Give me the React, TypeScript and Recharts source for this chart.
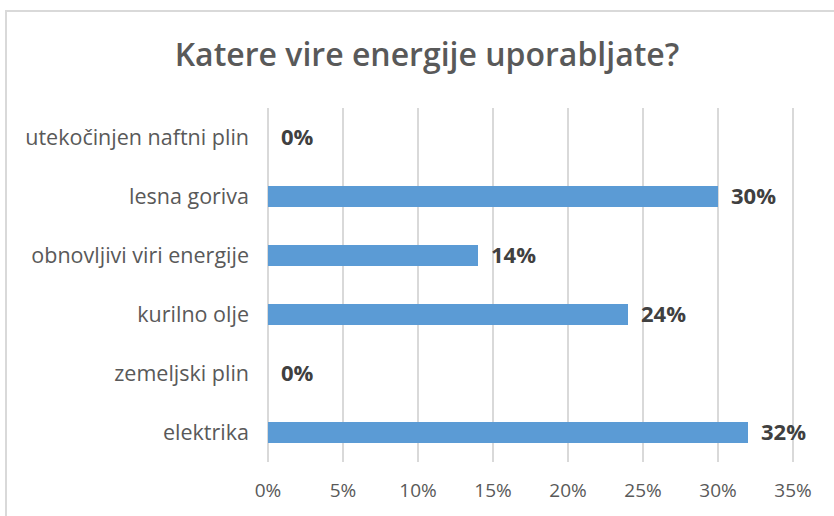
import { Bar, BarChart, CartesianGrid, LabelList, XAxis, YAxis } from "recharts";

const categories = [
  "utekočinjen naftni plin",
  "lesna goriva",
  "obnovljivi viri energije",
  "kurilno olje",
  "zemeljski plin",
  "elektrika",
];
const shares = [0, 30, 14, 24, 0, 32];
const xTicks = [0, 5, 10, 15, 20, 25, 30, 35];

const data = categories.map((name, i) => ({ name, value: shares[i] }));

const font = "'Open Sans', 'Liberation Sans', sans-serif";

export default function App() {
  return (
    <div
      style={{
        position: "fixed",
        left: 0,
        top: 0,
        width: 834,
        height: 516,
        overflow: "hidden",
        background: "#fff",
        fontFamily: font,
      }}
    >
      <div
        style={{
          position: "absolute",
          left: 5,
          top: 10,
          width: 900,
          height: 600,
          border: "2px solid #d9d9d9",
        }}
      />
      <div
        style={{
          position: "absolute",
          left: 0,
          top: 32,
          width: 854,
          textAlign: "center",
          fontSize: 32,
          fontWeight: 600,
          color: "#595959",
        }}
      >
        Katere vire energije uporabljate?
      </div>
      <div style={{ position: "absolute", left: 0, top: 0 }}>
        <BarChart
          width={834}
          height={516}
          data={data}
          layout="vertical"
          margin={{ top: 108, right: 41, bottom: 14, left: 0 }}
          barSize={21}
        >
          <CartesianGrid horizontal={false} stroke="#d9d9d9" strokeWidth={2} />
          <XAxis
            type="number"
            domain={[0, 35]}
            ticks={xTicks}
            tickFormatter={(v) => `${v}%`}
            axisLine={false}
            tickLine={false}
            height={40}
            tickMargin={16}
            tick={{ fill: "#595959", fontSize: 19, fontFamily: font }}
          />
          <YAxis
            type="category"
            dataKey="name"
            width={268}
            axisLine={false}
            tickLine={false}
            tickMargin={13}
            tick={{ fill: "#595959", fontSize: 21.5, fontFamily: font }}
          />
          <Bar dataKey="value" fill="#5b9bd5" minPointSize={0.01} isAnimationActive={false}>
            <LabelList
              dataKey="value"
              position="right"
              offset={13}
              formatter={(v: number) => `${v}%`}
              style={{ fill: "#404040", fontSize: 22, fontWeight: 700, fontFamily: font }}
            />
          </Bar>
        </BarChart>
      </div>
    </div>
  );
}
